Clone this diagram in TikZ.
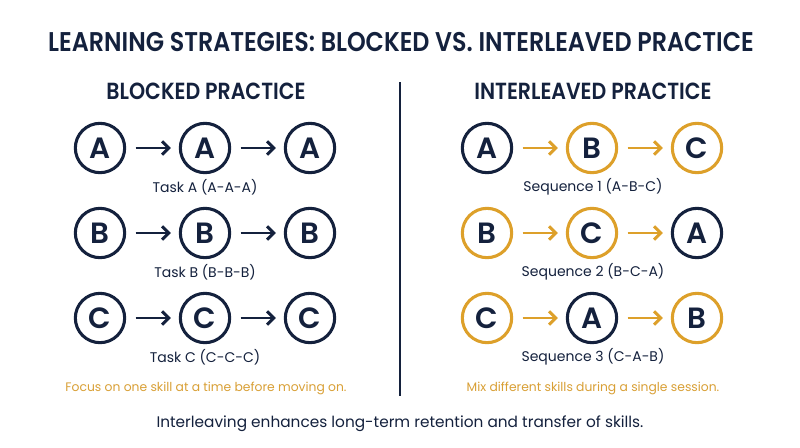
\documentclass[tikz,border=0pt]{standalone}
\usepackage{fontspec}
\setmainfont{Poppins}
\newfontfamily\semib{Poppins}[UprightFont=* SemiBold]
\usetikzlibrary{arrows.meta}
\definecolor{navy}{HTML}{14213D}
\definecolor{gold}{HTML}{DDA02A}
\definecolor{goldtxt}{HTML}{D9A036}
\tikzset{
  circ/.style={circle,draw=#1,line width=2.3pt,minimum size=37pt,inner sep=0pt,text=navy,font=\semib\fontsize{22}{22}\selectfont},
  circ/.default=navy,
  arr/.style={draw=#1,line width=2.2pt,shorten <=7pt,shorten >=6pt,-{Straight Barb[length=5pt,width=10pt]}},
  arr/.default=navy,
  lbl/.style={text=navy,font=\fontsize{10.5}{12}\selectfont},
  note/.style={text=goldtxt,font=\fontsize{9.25}{10}\selectfont},
  head/.style={text=navy,font=\semib\fontsize{17.5}{19}\selectfont,xscale=0.88}
}
\begin{document}
\begin{tikzpicture}[x=0.75pt,y=-0.75pt]
\useasboundingbox (0,0) rectangle (800,447);
\fill[white] (0,0) rectangle (800,447);
\node[text=navy,font=\semib\fontsize{20.3}{22}\selectfont,xscale=0.88] (title) at (401,42) {LEARNING STRATEGIES: BLOCKED VS. INTERLEAVED PRACTICE};
\node[head] (hl) at (206,91) {BLOCKED PRACTICE};
\node[head] (hr) at (593,91) {INTERLEAVED PRACTICE};
\coordinate (d1) at (400,82);
\coordinate (d2) at (400,396);
\draw[navy,line width=1.2pt] (d1) -- (d2);
% left
\foreach \r/\L/\y in {1/A/148,2/B/233,3/C/318}{
  \node[circ] (l\r a) at (100,\y) {\L};
  \node[circ] (l\r b) at (205,\y) {\L};
  \node[circ] (l\r c) at (310,\y) {\L};
  \draw[arr] (l\r a) -- (l\r b);
  \draw[arr] (l\r b) -- (l\r c);
}
\node[lbl] (t1) at (205,187) {Task A (A-A-A)};
\node[lbl] (t2) at (205,272) {Task B (B-B-B)};
\node[lbl] (t3) at (205,357) {Task C (C-C-C)};
% right
\node[circ] (r1a) at (487,148) {A};
\node[circ=gold] (r1b) at (592,148) {B};
\node[circ=gold] (r1c) at (697,148) {C};
\node[circ=gold] (r2a) at (487,233) {B};
\node[circ=gold] (r2b) at (592,233) {C};
\node[circ] (r2c) at (697,233) {A};
\node[circ=gold] (r3a) at (487,318) {C};
\node[circ] (r3b) at (592,318) {A};
\node[circ=gold] (r3c) at (697,318) {B};
\foreach \r in {1,2,3}{
  \draw[arr=gold] (r\r a) -- (r\r b);
  \draw[arr=gold] (r\r b) -- (r\r c);
}
\node[lbl] (s1) at (593,187) {Sequence 1 (A-B-C)};
\node[lbl] (s2) at (593,272) {Sequence 2 (B-C-A)};
\node[lbl] (s3) at (593,357) {Sequence 3 (C-A-B)};
\node[note] (nl) at (206,388) {Focus on one skill at a time before moving on.};
\node[note] (nr) at (593,388) {Mix different skills during a single session.};
\node[lbl,font=\fontsize{11.5}{14}\selectfont] (bot) at (400,424) {Interleaving enhances long-term retention and transfer of skills.};
\end{tikzpicture}
\end{document}
